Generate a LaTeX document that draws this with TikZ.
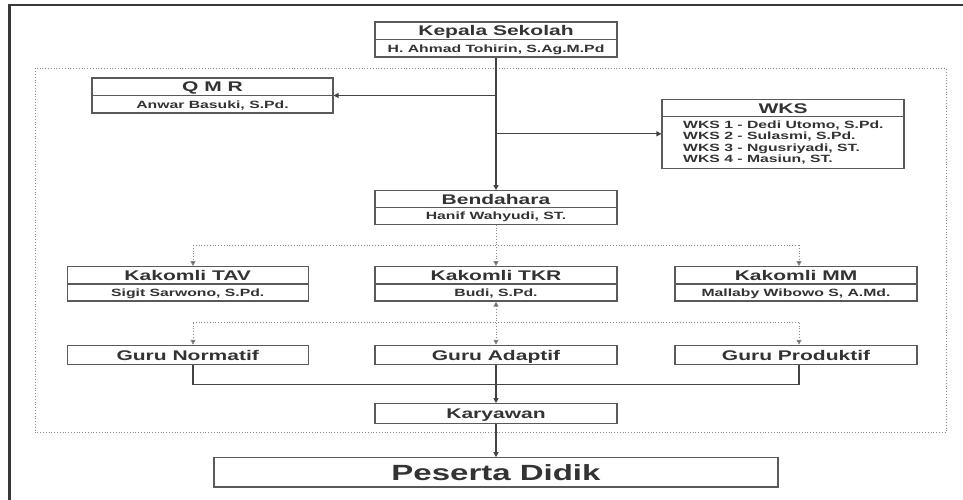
\documentclass[tikz,border=0pt]{standalone}
\usepackage{fontspec}
\setmainfont[FakeStretch=1.5]{Liberation Sans}
\usetikzlibrary{arrows.meta}
\definecolor{ink}{HTML}{333333}
\definecolor{boxline}{HTML}{5A5A5A}
\definecolor{wire}{HTML}{444444}
\definecolor{dots}{HTML}{8A8A8A}
\definecolor{frame}{HTML}{383838}
\begin{document}
\begin{tikzpicture}[x=1pt,y=-1pt,
  orgbox/.style={draw=boxline, line width=1.1pt, inner sep=0pt},
  divider/.style={draw=boxline, line width=1.1pt},
  titletext/.style={text=ink, inner sep=0pt, anchor=base, font=\fontsize{14}{16}\selectfont\bfseries},
  nametext/.style={text=ink, inner sep=0pt, anchor=base, font=\fontsize{10.5}{12}\selectfont\bfseries},
  listtext/.style={text=ink, inner sep=0pt, anchor=base west, font=\fontsize{10.5}{12}\selectfont\bfseries},
  bigtext/.style={text=ink, inner sep=0pt, anchor=base, font=\fontsize{22}{24}\selectfont\bfseries},
  link/.style={draw=wire, line width=1.1pt},
  arrowlink/.style={link, -{Triangle[length=5pt,width=5pt]}},
  dotlink/.style={draw=dots, line width=1pt, dash pattern=on 1pt off 1.8pt},
  dotarrow/.style={dotlink, -{Triangle[length=5pt,width=5pt,fill=wire]}},
  dotboth/.style={dotlink, {Triangle[length=5pt,width=5pt,fill=wire]}-{Triangle[length=5pt,width=5pt,fill=wire]}}
]
\useasboundingbox[fill=white] (0,0) rectangle (963,499);

% page frame, cut by the picture edge
\begin{scope}
  \clip (0,0) rectangle (963,499);
  \draw[frame, line width=3pt] (9.8,520) -- (9.8,5);
  \draw[frame, line width=2pt] (8.3,5) -- (990,5);
\end{scope}

% dotted staff area
\draw[dotlink] (35,68.3) rectangle (946,432.7);

% ---- boxes ----
\node[orgbox, minimum width=242pt, minimum height=35pt] (kepala) at (496,39.5) {};
\draw[divider] (kepala.west |- 0,39.5) -- (kepala.east |- 0,39.5);
\node[titletext] (kepala-t) at (496,35.5) {Kepala Sekolah};
\node[nametext] (kepala-n) at (496,52.3) {H. Ahmad Tohirin, S.Ag.M.Pd};

\node[orgbox, minimum width=241pt, minimum height=35pt] (qmr) at (212.5,95.5) {};
\draw[divider] (qmr.west |- 0,95.7) -- (qmr.east |- 0,95.7);
\node[titletext] (qmr-t) at (212.5,91.8) {Q M R};
\node[nametext] (qmr-n) at (212.5,108.5) {Anwar Basuki, S.Pd.};

\node[orgbox, minimum width=242pt, minimum height=69pt] (wks) at (783,133.8) {};
\draw[divider] (wks.west |- 0,116.7) -- (wks.east |- 0,116.7);
\node[titletext] (wks-t) at (783,113) {WKS};
\node[listtext] (wks1) at (683,128.3) {WKS 1 - Dedi Utomo, S.Pd.};
\node[listtext] (wks2) at (683,139.8) {WKS 2 - Sulasmi, S.Pd.};
\node[listtext] (wks3) at (683,151.2) {WKS 3 - Ngusriyadi, ST.};
\node[listtext] (wks4) at (683,162.7) {WKS 4 - Masiun, ST.};

\node[orgbox, minimum width=242pt, minimum height=33.6pt] (benda) at (496,207.5) {};
\draw[divider] (benda.west |- 0,207.3) -- (benda.east |- 0,207.3);
\node[titletext] (benda-t) at (496,204) {Bendahara};
\node[nametext] (benda-n) at (496,219.8) {Hanif Wahyudi, ST.};

\node[orgbox, minimum width=241pt, minimum height=34.3pt] (tav) at (187.7,283.85) {};
\draw[divider] (tav.west |- 0,284) -- (tav.east |- 0,284);
\node[titletext] (tav-t) at (187.7,280.3) {Kakomli TAV};
\node[nametext] (tav-n) at (187.7,296.4) {Sigit Sarwono, S.Pd.};

\node[orgbox, minimum width=242pt, minimum height=34.3pt] (tkr) at (496,283.85) {};
\draw[divider] (tkr.west |- 0,284) -- (tkr.east |- 0,284);
\node[titletext] (tkr-t) at (496,280.3) {Kakomli TKR};
\node[nametext] (tkr-n) at (496,296.4) {Budi, S.Pd.};

\node[orgbox, minimum width=242pt, minimum height=34.3pt] (mm) at (796,283.85) {};
\draw[divider] (mm.west |- 0,284) -- (mm.east |- 0,284);
\node[titletext] (mm-t) at (796,280.3) {Kakomli MM};
\node[nametext] (mm-n) at (796,296.4) {Mallaby Wibowo S, A.Md.};

\node[orgbox, minimum width=241pt, minimum height=19.4pt] (gnorm) at (187.7,355) {};
\node[titletext] (gnorm-t) at (187.7,360) {Guru Normatif};
\node[orgbox, minimum width=242pt, minimum height=19.4pt] (gadap) at (496,355) {};
\node[titletext] (gadap-t) at (496,360) {Guru Adaptif};
\node[orgbox, minimum width=242pt, minimum height=19.4pt] (gprod) at (796,355) {};
\node[titletext] (gprod-t) at (796,360) {Guru Produktif};

\node[orgbox, minimum width=242pt, minimum height=19.6pt] (kary) at (496,413.5) {};
\node[titletext] (kary-t) at (496,418.5) {Karyawan};

\node[orgbox, minimum width=564pt, minimum height=29.3pt] (peserta) at (496,472.35) {};
\node[bigtext] (peserta-t) at (496,480) {Peserta Didik};

% ---- solid connectors ----
\coordinate (jq) at (kepala.south |- qmr.east);
\coordinate (jw) at (kepala.south |- wks.west);
\draw[arrowlink] (kepala.south) -- (benda.north);
\draw[arrowlink] (jq) -- (qmr.east);
\draw[arrowlink] (jw) -- (wks.west);

% ---- dotted lines to the heads of department ----
\coordinate (k-left)  at (193,245);
\coordinate (k-right) at (799,245);
\draw[dotlink] (k-left) -- (k-right);
\draw[dotarrow] (benda.south) -- (tkr.north);
\draw[dotarrow] (k-left) -- (k-left |- tav.north);
\draw[dotarrow] (k-right) -- (k-right |- mm.north);

% ---- dotted lines to the teacher groups ----
\coordinate (g-left)  at (193,322.7);
\coordinate (g-right) at (799,322.7);
\draw[dotlink] (g-left) -- (g-right);
\draw[dotboth] (tkr.south) -- (gadap.north);
\draw[dotarrow] (g-left) -- (g-left |- gnorm.north);
\draw[dotarrow] (g-right) -- (g-right |- gprod.north);

% ---- teachers to staff to students ----
\coordinate (b-left)  at (193,384.3);
\coordinate (b-right) at (799,384.3);
\draw[link] (b-left |- gnorm.south) -- (b-left) -- (b-right) -- (b-right |- gprod.south);
\draw[arrowlink] (gadap.south) -- (kary.north);
\draw[arrowlink] (kary.south) -- (peserta.north);
\end{tikzpicture}
\end{document}
